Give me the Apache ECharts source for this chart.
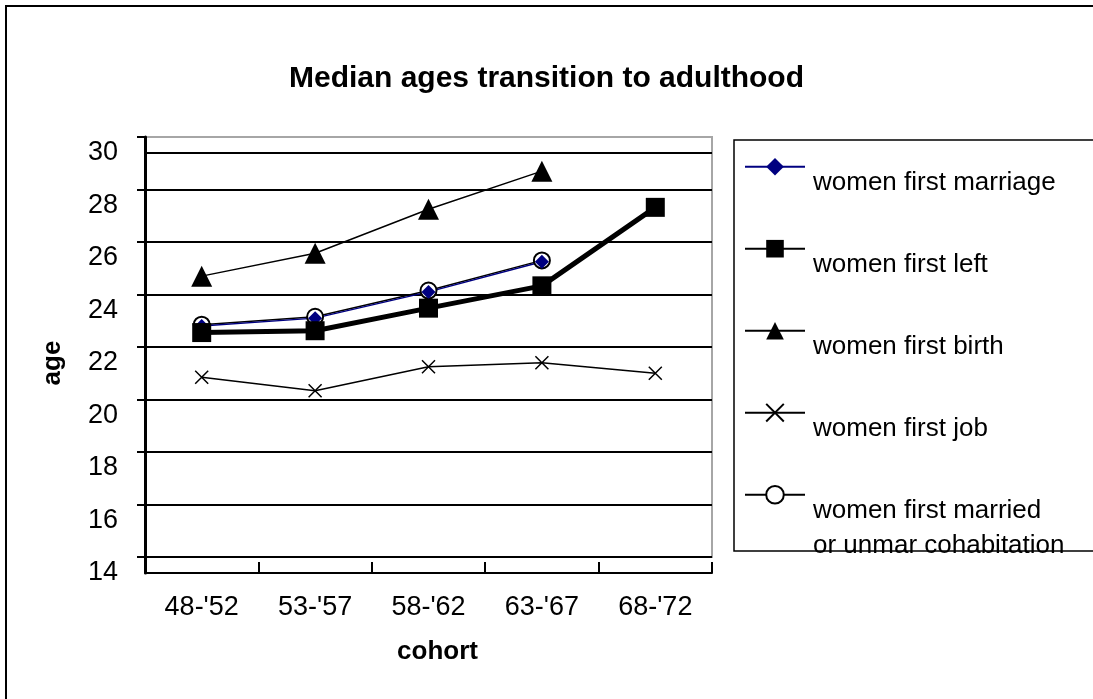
<!DOCTYPE html>
<html>
<head>
<meta charset="utf-8">
<script src="https://cdn.jsdelivr.net/npm/echarts@6/dist/echarts.min.js"></script>
<style>
html,body{margin:0;padding:0;background:#fff;}
#chart{width:1093px;height:699px;}
</style>
</head>
<body>
<div id="chart"></div>
<script>
// ---- data ----
var categories = ["48-'52", "53-'57", "58-'62", "63-'67", "68-'72"];
var marriage = [22.8, 23.1, 24.1, 25.25, null];
var leftHome = [22.55, 22.62, 23.48, 24.33, 27.32];
var birth = [24.7, 25.57, 27.25, 28.7, null];
var job = [20.85, 20.33, 21.25, 21.4, 21.0];
var cohab = [22.85, 23.15, 24.15, 25.3, null];
var yMin = 14, yMax = 30, yStep = 2;

var seriesNames = [
  'women first marriage',
  'women first left',
  'women first birth',
  'women first job',
  'women first married\nor unmar cohabitation'
];
var titleText = 'Median ages transition to adulthood';
var xName = 'cohort';
var yName = 'age';

var FONT = '"Liberation Sans", Arial, sans-serif';

var chart = echarts.init(document.getElementById('chart'), null, {renderer: 'canvas'});

// split line colours: all black except the top (max) line which is grey
var nLines = (yMax - yMin) / yStep + 1;
var splitColors0 = [];
var splitColors1 = [];
for (var i = 0; i < nLines; i++) {
  splitColors0.push(i === nLines - 1 ? '#a6a6a6' : '#000');
  splitColors1.push(i === nLines - 1 ? '#000' : 'rgba(0,0,0,0)');
}

var legendData = seriesNames.map(function (n) { return {name: n}; });

var option = {
  animation: false,
  backgroundColor: '#fff',
  title: {
    text: titleText,
    left: 'center',
    top: 59,
    textStyle: {fontFamily: FONT, fontSize: 30, fontWeight: 'bold', color: '#000'}
  },
  graphic: [
    {type: 'rect', z: 100, shape: {x: 6, y: 6, width: 1300, height: 900},
     style: {fill: 'none', stroke: '#000', lineWidth: 2}},
    {type: 'rect', z: 100, shape: {x: 734, y: 140, width: 500, height: 411},
     style: {fill: 'none', stroke: '#000', lineWidth: 1.5}}
  ],
  legend: [
    // icons only
    {
      orient: 'vertical',
      left: 744,
      top: 155.7,
      padding: 0,
      itemWidth: 60,
      itemHeight: 22,
      itemGap: 60,
      formatter: function () { return ' '; },
      textStyle: {fontFamily: FONT, fontSize: 10, lineHeight: 22, color: 'rgba(0,0,0,0)'},
      data: legendData
    },
    // texts only
    {
      orient: 'vertical',
      left: 744,
      top: 165.5,
      padding: 0,
      itemWidth: 60,
      itemHeight: 22,
      itemGap: 47,
      itemStyle: {opacity: 0},
      lineStyle: {opacity: 0},
      textStyle: {fontFamily: FONT, fontSize: 26, color: '#000', lineHeight: 35, padding: [0, 0, 0, 3]},
      data: legendData
    }
  ],
  grid: [
    {left: 145, right: 381, top: 137, bottom: 142, show: true, borderColor: '#a6a6a6', borderWidth: 2, containLabel: false},
    {left: 145, right: 381, top: 153, bottom: 126, show: false, containLabel: false}
  ],
  xAxis: [
    {
      gridIndex: 0, type: 'category', data: categories, boundaryGap: true,
      axisLine: {show: false}, axisTick: {show: false}, axisLabel: {show: false}, splitLine: {show: false}
    },
    {
      gridIndex: 1, type: 'category', data: categories, boundaryGap: true,
      axisLine: {show: true, lineStyle: {color: '#000', width: 2}},
      axisTick: {show: true, inside: true, length: 11, lineStyle: {color: '#000', width: 2}},
      axisLabel: {show: true, fontFamily: FONT, fontSize: 27, color: '#000', margin: 21},
      splitLine: {show: false},
      name: xName, nameLocation: 'middle', nameGap: 66,
      nameTextStyle: {fontFamily: FONT, fontSize: 26, fontWeight: 'bold', color: '#000', padding: [0, 0, 0, 18]}
    }
  ],
  yAxis: [
    {
      gridIndex: 0, type: 'value', min: yMin, max: yMax, interval: yStep,
      axisLine: {show: true, lineStyle: {color: '#000', width: 3}},
      axisTick: {show: true, inside: false, length: 8, lineStyle: {color: '#000', width: 2}},
      axisLabel: {show: false},
      splitLine: {show: true, lineStyle: {color: splitColors0, width: 2}}
    },
    {
      gridIndex: 1, type: 'value', min: yMin, max: yMax, interval: yStep,
      axisLine: {show: true, lineStyle: {color: '#000', width: 3}},
      axisTick: {show: false},
      axisLabel: {show: true, fontFamily: FONT, fontSize: 27, color: '#000', margin: 27},
      splitLine: {show: true, lineStyle: {color: splitColors1, width: 2}},
      name: yName, nameLocation: 'middle', nameGap: 79, nameRotate: 90,
      nameTextStyle: {fontFamily: FONT, fontSize: 26, fontWeight: 'bold', color: '#000'}
    }
  ],
  series: [
    {
      name: seriesNames[4], type: 'line', xAxisIndex: 0, yAxisIndex: 0, data: cohab,
      symbol: 'emptyCircle', symbolSize: 16, showAllSymbol: true,
      lineStyle: {color: '#000', width: 1.5},
      itemStyle: {color: '#000', borderColor: '#000', borderWidth: 1.5}
    },
    {
      name: seriesNames[0], type: 'line', xAxisIndex: 0, yAxisIndex: 0, data: marriage,
      symbol: 'diamond', symbolSize: 14, showAllSymbol: true,
      lineStyle: {color: '#000080', width: 1.5},
      itemStyle: {color: '#000080'}
    },
    {
      name: seriesNames[3], type: 'line', xAxisIndex: 0, yAxisIndex: 0, data: job,
      symbol: 'path://M0,0L10,10M10,0L0,10', symbolSize: 13, showAllSymbol: true,
      lineStyle: {color: '#000', width: 1.5},
      itemStyle: {color: '#000', borderColor: '#000', borderWidth: 1.5}
    },
    {
      name: seriesNames[2], type: 'line', xAxisIndex: 0, yAxisIndex: 0, data: birth,
      symbol: 'triangle', symbolSize: 21, showAllSymbol: true,
      lineStyle: {color: '#000', width: 1.5},
      itemStyle: {color: '#000'}
    },
    {
      name: seriesNames[1], type: 'line', xAxisIndex: 0, yAxisIndex: 0, data: leftHome,
      symbol: 'rect', symbolSize: 19, showAllSymbol: true,
      lineStyle: {color: '#000', width: 5},
      itemStyle: {color: '#000'}
    }
  ]
};
chart.setOption(option);
</script>
</body>
</html>
